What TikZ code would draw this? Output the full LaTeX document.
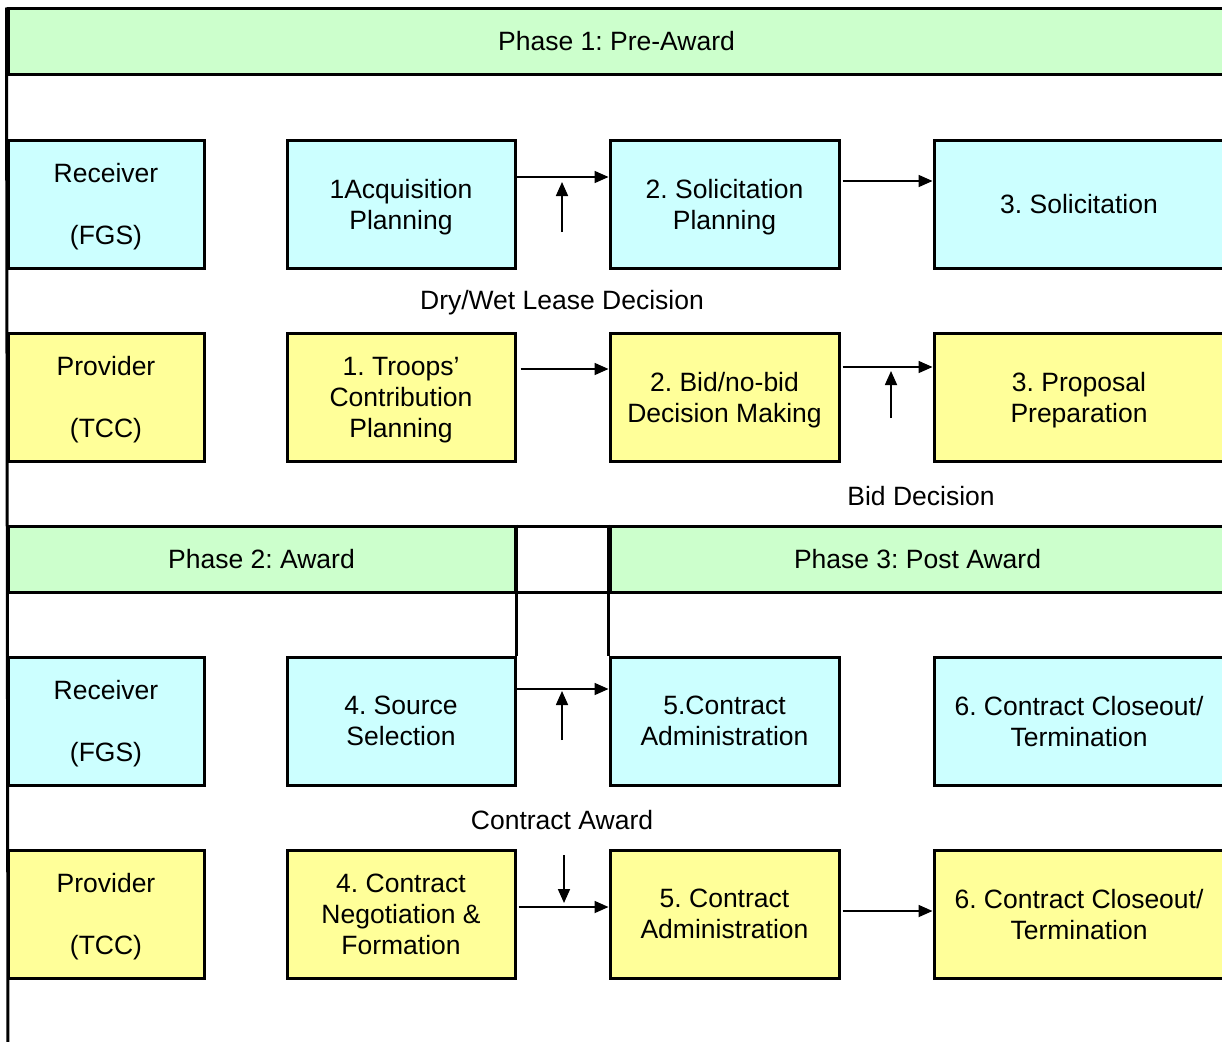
\documentclass[tikz,border=0pt]{standalone}
\usepackage{fontspec}
\setmainfont{Liberation Sans}
\frenchspacing
\usetikzlibrary{arrows.meta}
\definecolor{hdrgreen}{HTML}{CCFFCC}
\definecolor{rcvcyan}{HTML}{CCFFFF}
\definecolor{prvyellow}{HTML}{FFFF99}
\begin{document}
\begin{tikzpicture}[x=1pt,y=-1pt,
  font=\fontsize{26.5}{31}\selectfont,
  frame/.style={draw=black, line width=3pt, inner sep=0pt, align=center},
  hdrbox/.style={frame, fill=hdrgreen, minimum height=65pt},
  rcvbox/.style={frame, fill=rcvcyan, minimum height=128pt, text depth=0pt},
  prvbox/.style={frame, fill=prvyellow, minimum height=128pt, text depth=0pt},
  rolew/.style={minimum width=196pt},
  procw/.style={minimum width=228pt},
  midw/.style={minimum width=229pt},
  endw/.style={minimum width=290pt},
  flow/.style={draw=black, line width=1.7pt, -{Triangle[length=14pt,width=12pt]}},
  lbl/.style={inner sep=0pt}
]
\clip (0,0) rectangle (1222,1041);
\fill[white] (0,0) rectangle (1222,1041);

% Phase 1 header
\node[hdrbox, minimum width=1217pt] (p1) at (616.5,41.5) {\raisebox{-2pt}{Phase 1: Pre-Award}};

% Row 1 : Receiver (FGS)
\node[rcvbox, rolew] (r1a) at (106,204) {Receiver\\[31pt](FGS)};
\node[rcvbox, procw] (r1b) at (401,204) {1Acquisition\\Planning};
\node[rcvbox, midw] (r1c) at (724.5,204) {2. Solicitation\\Planning};
\node[rcvbox, endw] (r1d) at (1079,204) {3. Solicitation};

% Row 2 : Provider (TCC)
\node[prvbox, rolew] (r2a) at (106,397) {Provider\\[31pt](TCC)};
\node[prvbox, procw] (r2b) at (401,397) {1. Troops’\\Contribution\\Planning};
\node[prvbox, midw] (r2c) at (724.5,397) {2. Bid/no-bid\\Decision Making};
\node[prvbox, endw] (r2d) at (1079,397) {3. Proposal\\Preparation};

% Phase 2/3 header band
\node[frame, fill=white, minimum width=1217pt, minimum height=66pt] (p23) at (616.5,559) {};
\node[hdrbox, minimum width=507pt, minimum height=66pt] (p2) at (261.5,559) {Phase 2: Award};
\node[hdrbox, minimum width=615pt, minimum height=66pt] (p3) at (917.5,559) {Phase 3: Post Award};

% Row 3 : Receiver (FGS)
\node[rcvbox, rolew] (r3a) at (106,721) {Receiver\\[31pt](FGS)};
\node[rcvbox, procw] (r3b) at (401,721) {4. Source\\Selection};
\node[rcvbox, midw] (r3c) at (724.5,721) {5.Contract\\Administration};
\node[rcvbox, endw] (r3d) at (1079,721) {6. Contract Closeout/\\Termination};

% Row 4 : Provider (TCC)
\node[prvbox, rolew] (r4a) at (106,914) {Provider\\[31pt](TCC)};
\node[prvbox, procw] (r4b) at (401,914) {4. Contract\\Negotiation \&\\Formation};
\node[prvbox, midw] (r4c) at (724.5,914) {5. Contract\\Administration};
\node[prvbox, endw] (r4d) at (1079,914) {6. Contract Closeout/\\Termination};

% Column divider lines between the phase 2/3 header and row 3
\draw[line width=3pt] (p2.north east) -- (r3b.north east);
\draw[line width=3pt] (p3.north west) -- (r3c.north west);

% Left vertical rule
\coordinate (leftbottom) at (8,1045);
\draw[line width=3pt] (p1.north west) -- (leftbottom);

% Decision labels
\node[lbl] (dwl) at (562,303) {Dry/Wet Lease Decision};
\node[lbl] (bid) at (921,496) {Bid Decision};
\node[lbl] (caw) at (562,820) {Contract Award};

% Free ends of the decision arrows
\coordinate (u1s) at (562,232); \coordinate (u1e) at (562,182);
\coordinate (u2s) at (891,418); \coordinate (u2e) at (891,371);
\coordinate (u3s) at (562,740); \coordinate (u3e) at (562,691);
\coordinate (d4s) at (564,855); \coordinate (d4e) at (564,903);

% Row 1 flows
\draw[flow] ([yshift=27pt]r1b.east) -- ([yshift=27pt]r1c.west);
\draw[flow] ([xshift=2pt,yshift=23pt]r1c.east) -- ([yshift=23pt]r1d.west);
\draw[flow] (u1s) -- (u1e);

% Row 2 flows
\draw[flow] ([xshift=4pt,yshift=28pt]r2b.east) -- ([yshift=28pt]r2c.west);
\draw[flow] ([xshift=2pt,yshift=30pt]r2c.east) -- ([yshift=30pt]r2d.west);
\draw[flow] (u2s) -- (u2e);

% Row 3 flows
\draw[flow] ([yshift=32pt]r3b.east) -- ([yshift=32pt]r3c.west);
\draw[flow] (u3s) -- (u3e);

% Row 4 flows
\draw[flow] ([xshift=2pt,yshift=7pt]r4b.east) -- ([yshift=7pt]r4c.west);
\draw[flow] ([xshift=2pt,yshift=3pt]r4c.east) -- ([yshift=3pt]r4d.west);
\draw[flow] (d4s) -- (d4e);
\end{tikzpicture}
\end{document}
